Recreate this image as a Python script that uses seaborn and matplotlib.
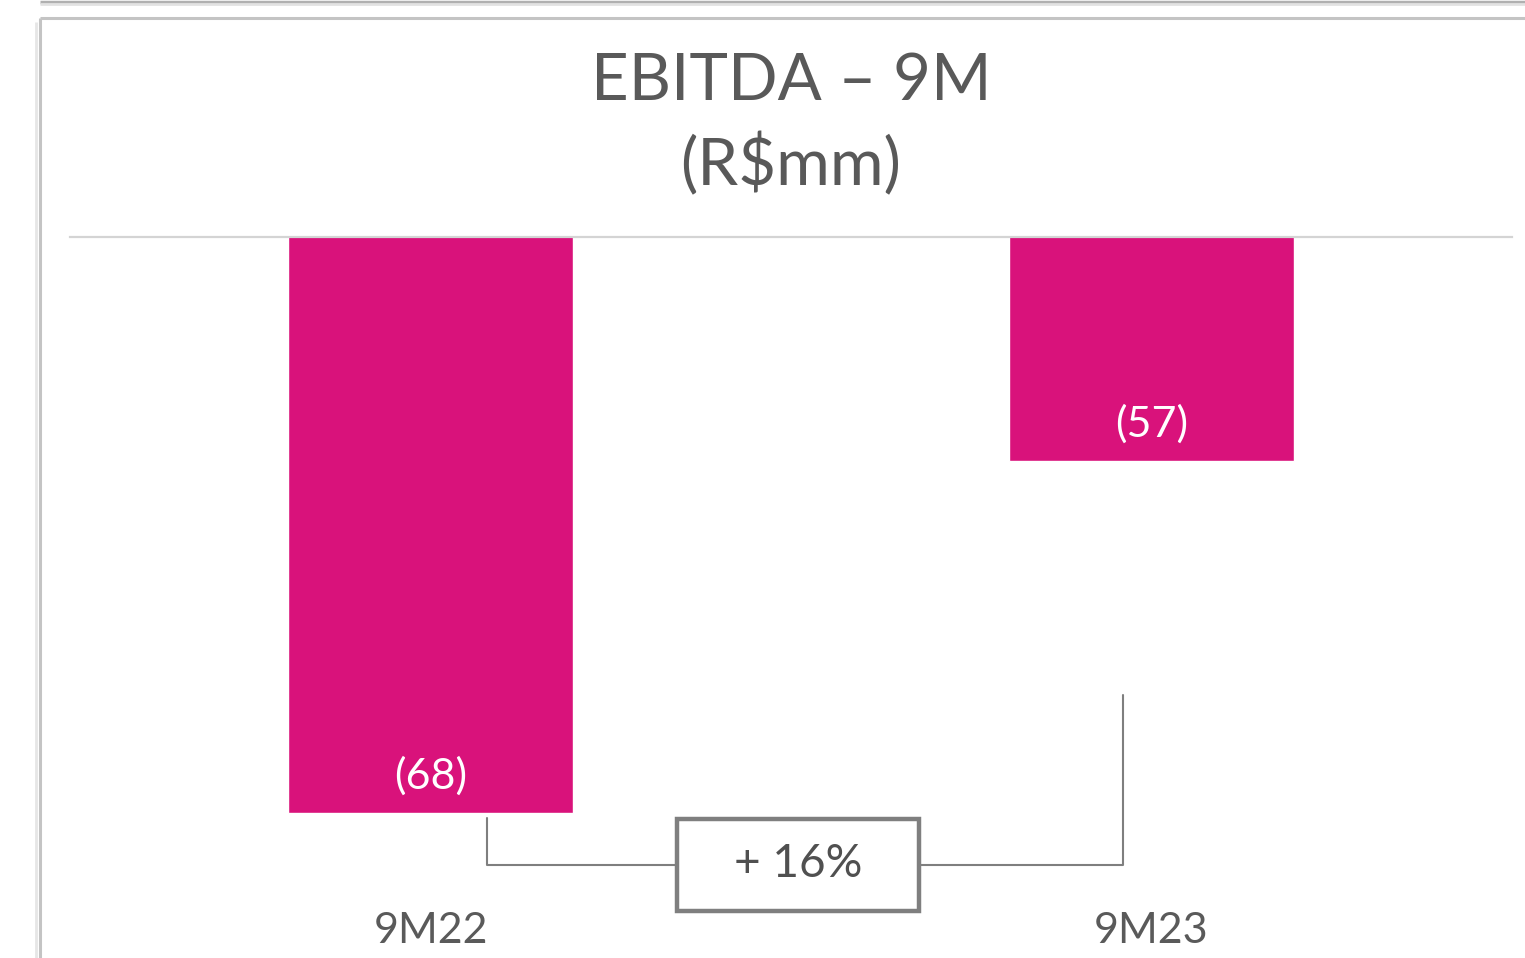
import matplotlib
matplotlib.use("Agg")
import matplotlib.pyplot as plt
import seaborn as sns
import pandas as pd
from matplotlib.lines import Line2D
from matplotlib.patches import Rectangle

categories = ["9M22", "9M23"]
values = [-68, -57]
value_labels = ["(68)", "(57)"]
change_label = "+ 16%"
title_lines = ["EBITDA – 9M", "(R$mm)"]

BAR = "#D9127B"
GREY_TXT = "#595959"
LINE = "#7f7f7f"

sns.set_theme(style="white")
plt.rcParams["font.family"] = ["Lato", "DejaVu Sans"]

W, H = 1525, 958
fig = plt.figure(figsize=(W / 100, H / 100), dpi=100)
fig.patch.set_facecolor("white")

def fx(px):
    return px / W

def fy(py):
    return 1 - py / H

ax_left, ax_right, ax_top, ax_bot = 70, 1512, 237, 905
ax = fig.add_axes([fx(ax_left), fy(ax_bot), fx(ax_right - ax_left), (ax_bot - ax_top) / H])
ax.set_facecolor("none")

df = pd.DataFrame({"cat": categories, "val": values})
sns.barplot(data=df, x="cat", y="val", color=BAR, width=0.394, saturation=1, ax=ax)
ax.set_xlim(-0.5, 1.5)
ax.set_ylim(-50 - (ax_bot - ax_top) / 32.0, -50)

for sp in ["left", "right", "bottom"]:
    ax.spines[sp].set_visible(False)
ax.spines["top"].set_visible(True)
ax.spines["top"].set_color("#d4d4d4")
ax.spines["top"].set_linewidth(1.6)
ax.set_yticks([])
ax.set_xlabel("")
ax.set_ylabel("")
ax.tick_params(axis="x", length=0, pad=5, labelsize=31, labelcolor="#5a5a5a")

for i, (v, lab) in enumerate(zip(values, value_labels)):
    ax.annotate(lab, xy=(i, v), xytext=(0, 26.5), textcoords="offset points",
                ha="center", va="center", color="white", fontsize=31)

# title
fig.text(fx(791), fy(81), title_lines[0], ha="center", va="center",
         fontsize=47, color=GREY_TXT)
fig.text(fx(791), fy(164), title_lines[1], ha="center", va="center",
         fontsize=47, color=GREY_TXT)

# bracket
def fline(xs, ys, **kw):
    fig.add_artist(Line2D([fx(x) for x in xs], [fy(y) for y in ys],
                          transform=fig.transFigure, **kw))

fline([487, 487, 675], [818, 865, 865], color=LINE, lw=1.5)
fline([921, 1123, 1123], [865, 865, 695], color=LINE, lw=1.5)
fig.add_artist(Rectangle((fx(677), fy(911)), fx(242), (911 - 819) / H,
                         transform=fig.transFigure, facecolor="white",
                         edgecolor=LINE, lw=3.2))
fig.text(fx(798), fy(864), change_label, ha="center", va="center",
         fontsize=33, color="#505050")

# panel frame and shadow
fline([40, 40], [958, 18], color="#c4c4c4", lw=2.2, solid_capstyle="butt")
fline([40, W], [18, 18], color="#c4c4c4", lw=2.2, solid_capstyle="butt")
fline([36, 36], [958, 22], color="#e6e6e6", lw=2, solid_capstyle="butt")
fline([40, W], [1.5, 1.5], color="#b0b0b0", lw=2.5, solid_capstyle="butt")
fline([40, W], [4, 4], color="#e2e2e2", lw=2, solid_capstyle="butt")

fig.savefig("out.png", dpi=100, facecolor="white")
